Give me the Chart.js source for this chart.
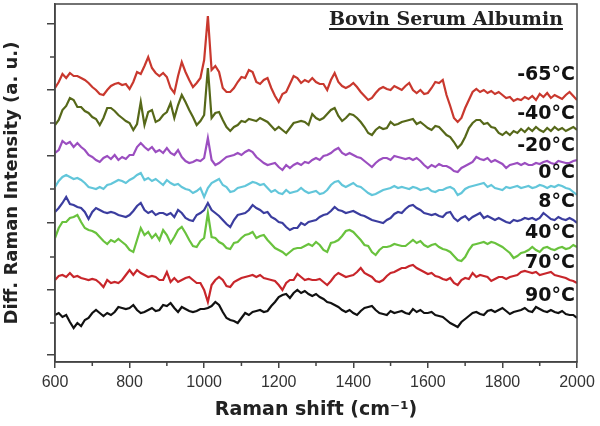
<!DOCTYPE html>
<html>
<head>
<meta charset="utf-8">
<script src="https://cdn.jsdelivr.net/npm/chart.js@4.4.1/dist/chart.umd.min.js"></script>
<style>
  html, body { margin: 0; padding: 0; background: #fff; }
  #wrap { width: 600px; height: 426px; }
</style>
</head>
<body>
<div id="wrap"><canvas id="ramanChart" width="600" height="426"></canvas></div>
<script>
// Desplazamiento Raman (cm-1)
const shifts = [
  600, 610, 620, 630, 640, 650, 660, 670, 680, 690,
  700, 710, 720, 730, 740, 750, 760, 770, 780, 790,
  800, 810, 820, 830, 840, 850, 860, 870, 880, 890,
  900, 910, 920, 930, 940, 950, 960, 970, 980, 990,
  1000, 1010, 1020, 1030, 1040, 1050, 1060, 1070, 1080, 1090,
  1100, 1110, 1120, 1130, 1140, 1150, 1160, 1170, 1180, 1190,
  1200, 1210, 1220, 1230, 1240, 1250, 1260, 1270, 1280, 1290,
  1300, 1310, 1320, 1330, 1340, 1350, 1360, 1370, 1380, 1390,
  1400, 1410, 1420, 1430, 1440, 1450, 1460, 1470, 1480, 1490,
  1500, 1510, 1520, 1530, 1540, 1550, 1560, 1570, 1580, 1590,
  1600, 1610, 1620, 1630, 1640, 1650, 1660, 1670, 1680, 1690,
  1700, 1710, 1720, 1730, 1740, 1750, 1760, 1770, 1780, 1790,
  1800, 1810, 1820, 1830, 1840, 1850, 1860, 1870, 1880, 1890,
  1900, 1910, 1920, 1930, 1940, 1950, 1960, 1970, 1980, 1990,
  2000
];

const temperaturas = ['-65°C', '-40°C', '-20°C', '0°C', '8°C', '40°C', '70°C', '90°C'];

// Intensidad diferencial (u. a., espectros desplazados)
const tMenos65 = [
  274, 280, 288, 284, 289, 286, 286, 284, 282, 279,
  275, 272, 268, 267, 272, 276, 278, 279, 277, 278,
  273, 280, 290, 288, 296, 305, 294, 289, 286, 289,
  285, 274, 269, 286, 300, 290, 282, 275, 279, 284,
  302, 346, 292, 296, 290, 274, 270, 270, 274, 280,
  285, 284, 292, 290, 280, 278, 282, 284, 274, 266,
  260, 268, 270, 278, 286, 284, 279, 282, 280, 284,
  280, 278, 278, 272, 282, 289, 280, 276, 274, 276,
  279, 275, 270, 266, 262, 264, 269, 273, 275, 273,
  272, 276, 274, 272, 276, 279, 272, 269, 272, 268,
  269, 274, 280, 279, 282, 267, 256, 244, 240, 244,
  254, 262, 270, 273, 270, 272, 269, 271, 268, 270,
  267, 264, 265, 261, 263, 262, 265, 263, 266, 262,
  268, 265, 269, 264, 267, 265, 263, 267, 270, 266,
  262
];
const tMenos40 = [
  237, 242, 252, 256, 264, 262, 255, 255, 251, 249,
  245, 243, 237, 244, 254, 254, 251, 247, 244, 241,
  239, 232, 238, 260, 237, 250, 252, 240, 242, 247,
  250, 259, 244, 257, 267, 260, 252, 245, 237, 241,
  247, 294, 244, 249, 250, 242, 235, 231, 235, 237,
  241, 240, 243, 242, 241, 244, 242, 240, 236, 232,
  235, 232, 229, 234, 239, 240, 241, 240, 237, 248,
  244, 242, 244, 248, 252, 254, 246, 241, 244, 248,
  247, 244, 240, 235, 229, 227, 232, 235, 233, 234,
  240, 237, 238, 240, 241, 242, 243, 238, 240, 237,
  234, 232, 236, 235, 231, 227, 225, 220, 214, 218,
  225, 234, 239, 242, 242, 238, 239, 235, 234, 229,
  227, 230, 227, 231, 229, 233, 230, 234, 231, 235,
  232, 230, 234, 231, 235, 232, 234, 231, 233, 235,
  232
];
const tMenos20 = [
  209, 212, 221, 218, 220, 215, 219, 215, 212, 207,
  205, 202, 200, 204, 206, 203, 207, 202, 205, 203,
  207, 207, 215, 219, 215, 212, 215, 210, 212, 209,
  214, 209, 207, 212, 205, 201, 199, 200, 202, 201,
  204, 224, 202, 197, 199, 202, 205, 206, 207, 209,
  207, 210, 212, 210, 205, 202, 199, 197, 198, 199,
  195, 192, 197, 194, 197, 199, 197, 200, 199, 202,
  204, 202, 206, 207, 209, 212, 214, 209, 207, 209,
  207, 205, 204, 201, 198, 195, 199, 202, 204, 204,
  202, 206, 205, 204, 203, 204, 202, 204, 201, 197,
  194, 197, 195, 198, 196, 196, 194, 191, 190, 194,
  196, 198, 200, 205, 203, 202, 204, 200, 202, 200,
  198, 194, 197, 198, 199, 197, 199, 197, 197, 199,
  198, 200, 201, 199, 198, 201, 200, 199, 199, 201,
  202
];
const t0 = [
  175, 181, 185, 187, 185, 183, 184, 182, 179, 175,
  174, 173, 175, 173, 177, 178, 180, 182, 181, 179,
  182, 184, 187, 189, 182, 184, 181, 183, 180, 177,
  182, 179, 177, 178, 175, 173, 172, 169, 171, 174,
  165, 174, 179, 181, 183, 177, 175, 170, 171, 174,
  175, 176, 178, 180, 179, 177, 178, 174, 170, 172,
  169, 168, 172, 169, 170, 171, 174, 171, 169, 170,
  171, 168, 169, 172, 177, 180, 181, 177, 175, 177,
  179, 176, 175, 172, 169, 167, 168, 170, 172, 173,
  174, 176, 174, 175, 174, 173, 175, 174, 172, 173,
  174, 171, 170, 172, 172, 174, 175, 173, 167, 169,
  173, 175, 176, 177, 178, 179, 175, 177, 174, 173,
  172, 175, 174, 175, 176, 174, 175, 176, 174, 175,
  177, 176, 174, 176, 175, 177, 176, 174, 173, 170,
  167
];
const t8 = [
  150, 154, 159, 165, 158, 157, 155, 154, 150, 143,
  150, 154, 152, 150, 149, 150, 149, 147, 146, 145,
  147, 151, 156, 159, 152, 149, 151, 147, 149, 149,
  147, 149, 145, 152, 149, 144, 142, 141, 147, 149,
  152, 159, 152, 149, 146, 142, 138, 135, 142, 147,
  148, 149, 152, 157, 154, 152, 149, 150, 145, 143,
  140, 139, 135, 132, 134, 134, 139, 137, 140, 141,
  142, 145, 147, 148, 151, 155, 152, 151, 149, 150,
  151, 149, 147, 146, 144, 142, 141, 140, 139, 142,
  144, 148, 150, 149, 153, 156, 157, 154, 152, 149,
  148, 147, 148, 146, 145, 149, 150, 144, 141, 144,
  146, 142, 145, 147, 149, 144, 146, 144, 142, 144,
  142, 140, 139, 142, 141, 142, 144, 143, 144, 142,
  144, 149, 146, 143, 142, 145, 143, 142, 144, 142,
  139
];
const t40 = [
  124, 134, 140, 140, 144, 145, 147, 140, 134, 132,
  131, 129, 125, 121, 118, 122, 120, 123, 120, 117,
  112, 110, 122, 134, 127, 130, 124, 128, 122, 132,
  127, 119, 125, 132, 135, 129, 122, 116, 115, 121,
  124, 149, 125, 124, 120, 118, 114, 113, 119, 120,
  124, 127, 128, 130, 124, 126, 127, 122, 118, 114,
  112, 110, 107, 110, 113, 114, 114, 116, 118, 116,
  120, 117, 112, 110, 119, 120, 122, 126, 131, 132,
  130, 126, 122, 117, 116, 110, 107, 112, 115, 115,
  116, 118, 117, 116, 116, 119, 122, 119, 121, 117,
  115, 117, 118, 115, 113, 112, 110, 106, 102, 101,
  105, 112, 117, 118, 119, 120, 118, 120, 119, 117,
  115, 112, 109, 104, 106, 109, 110, 112, 115, 112,
  110, 114, 115, 113, 112, 114, 115, 113, 114, 117,
  115
];
const t70 = [
  82, 86, 87, 85, 89, 85, 86, 84, 83, 82,
  83, 82, 79, 75, 82, 79, 80, 79, 82, 87,
  92, 87, 92, 89, 87, 85, 86, 85, 82, 82,
  90, 80, 84, 80, 82, 84, 85, 82, 79, 79,
  72, 60, 77, 82, 85, 82, 76, 75, 80, 82,
  84, 85, 86, 87, 85, 87, 84, 83, 82, 81,
  77, 72, 79, 82, 82, 88, 85, 82, 83, 82,
  82, 83, 80, 77, 81, 86, 89, 87, 85, 86,
  87, 90, 94, 89, 87, 85, 81, 80, 82, 86,
  89, 90, 92, 94, 94, 96, 97, 94, 92, 90,
  88, 89, 86, 85, 83, 82, 84, 79, 77, 82,
  84, 83, 89, 85, 87, 86, 85, 81, 83, 85,
  85, 83, 85, 86, 87, 90, 91, 90, 89, 90,
  87, 88, 89, 90, 87, 86, 85, 84, 82, 81,
  79
];
const t90 = [
  47, 49, 45, 47, 40, 34, 39, 36, 42, 44,
  49, 52, 49, 46, 49, 47, 50, 55, 54, 53,
  54, 57, 52, 49, 50, 52, 54, 51, 52, 57,
  56, 59, 54, 50, 55, 53, 51, 50, 51, 53,
  53, 54, 56, 60, 57, 50, 44, 42, 41, 39,
  44, 49, 47, 50, 51, 52, 50, 51, 56, 60,
  65, 67, 68, 64, 69, 72, 69, 71, 68, 66,
  68, 65, 63, 60, 59, 57, 55, 52, 50, 52,
  49, 47, 51, 54, 55, 56, 52, 49, 48, 47,
  51, 49, 50, 51, 49, 48, 53, 50, 52, 49,
  49, 50, 47, 46, 45, 42, 39, 37, 35, 40,
  43, 46, 49, 50, 48, 47, 51, 52, 50, 52,
  54, 51, 48, 50, 51, 52, 54, 51, 50, 55,
  53, 51, 50, 52, 50, 49, 51, 48, 47, 47,
  44
];

const espectros = [tMenos65, tMenos40, tMenos20, t0, t8, t40, t70, t90];

// Marcas de los ejes
const xMinorTicks = [700, 900, 1100, 1300, 1500, 1700, 1900];
const yMajorTicks = [7, 72, 139, 206, 272, 338];
const yMinorTicks = [39, 105, 173, 239, 305];

// Altura de cada etiqueta de temperatura (mismas unidades que el eje y)
const nivelEtiqueta = [287, 248, 216, 189, 160, 129, 99, 66];

const colores = ['#c9382e', '#566819', '#9b4ec0', '#62c6da', '#3b3d9f', '#69c23d', '#c8262b', '#111111'];
const titulo = 'Bovin Serum Albumin';

// Marco, marcas menores, etiquetas y título interior
const decoraciones = {
    id: 'decoraciones',
    afterDraw(chart) {
        const { ctx, chartArea: a, scales: { x, y } } = chart;
        ctx.save();
        ctx.strokeStyle = '#444';
        ctx.lineWidth = 1.5;
        ctx.strokeRect(a.left, a.top, a.right - a.left, a.bottom - a.top);

        ctx.beginPath();
        xMinorTicks.forEach(v => {
            const px = x.getPixelForValue(v);
            ctx.moveTo(px, a.bottom);
            ctx.lineTo(px, a.bottom + 4);
        });
        yMinorTicks.forEach(v => {
            const py = y.getPixelForValue(v);
            ctx.moveTo(a.left, py);
            ctx.lineTo(a.left - 5, py);
        });
        ctx.stroke();

        ctx.fillStyle = '#111';
        ctx.font = 'bold 19px "DejaVu Sans"';
        ctx.textAlign = 'right';
        ctx.textBaseline = 'middle';
        temperaturas.forEach((t, i) => {
            ctx.fillText(t, a.right - 2, y.getPixelForValue(nivelEtiqueta[i]));
        });

        ctx.font = 'bold 19px "DejaVu Serif"';
        ctx.textBaseline = 'alphabetic';
        ctx.fillStyle = '#222';
        const tx = a.right - 14;
        const ty = a.top + 21;
        ctx.fillText(titulo, tx, ty);
        const w = ctx.measureText(titulo).width;
        ctx.fillRect(tx - w, ty + 3, w, 2);
        ctx.restore();
    }
};

document.addEventListener('DOMContentLoaded', () => {
    const ctx = document.getElementById('ramanChart').getContext('2d');
    new Chart(ctx, {
        type: 'line',
        data: {
            datasets: espectros.map((serie, i) => ({
                label: temperaturas[i],
                data: serie.map((v, j) => ({ x: shifts[j], y: v })),
                borderColor: colores[i],
                borderWidth: 2.2,
                pointRadius: 0,
                tension: 0,
                fill: false
            }))
        },
        options: {
            responsive: false,
            animation: false,
            layout: { padding: { left: 0, top: 4, right: 23, bottom: 0 } },
            plugins: { legend: { display: false }, tooltip: { enabled: false } },
            scales: {
                x: {
                    type: 'linear',
                    min: 600,
                    max: 2000,
                    ticks: {
                        stepSize: 200,
                        padding: 5,
                        color: '#333',
                        font: { family: "'Liberation Sans', Arial, sans-serif", size: 16 },
                        callback: v => String(v)
                    },
                    grid: { drawOnChartArea: false, tickLength: 6, color: '#444', lineWidth: 1.5 },
                    border: { color: '#444', width: 1.5 },
                    title: {
                        display: true,
                        text: 'Raman shift (cm⁻¹)',
                        color: '#222',
                        font: { family: "'DejaVu Sans', sans-serif", weight: 'bold', size: 19 },
                        padding: { top: 0, bottom: 5 }
                    },
                    afterFit: s => { s.height = 64; }
                },
                y: {
                    type: 'linear',
                    min: 0,
                    max: 358,
                    afterBuildTicks: s => { s.ticks = yMajorTicks.map(v => ({ value: v })); },
                    ticks: { display: false },
                    grid: { drawOnChartArea: false, tickLength: 8, color: '#444', lineWidth: 1.5 },
                    border: { color: '#444', width: 1.5 },
                    title: {
                        display: true,
                        text: 'Diff. Raman Intensity (a. u.)',
                        color: '#222',
                        font: { family: "'DejaVu Sans', sans-serif", weight: 'bold', size: 18 },
                        padding: { top: 2, bottom: 0 }
                    },
                    afterFit: s => { s.width = 55; }
                }
            }
        },
        plugins: [decoraciones]
    });
});
</script>
</body>
</html>
